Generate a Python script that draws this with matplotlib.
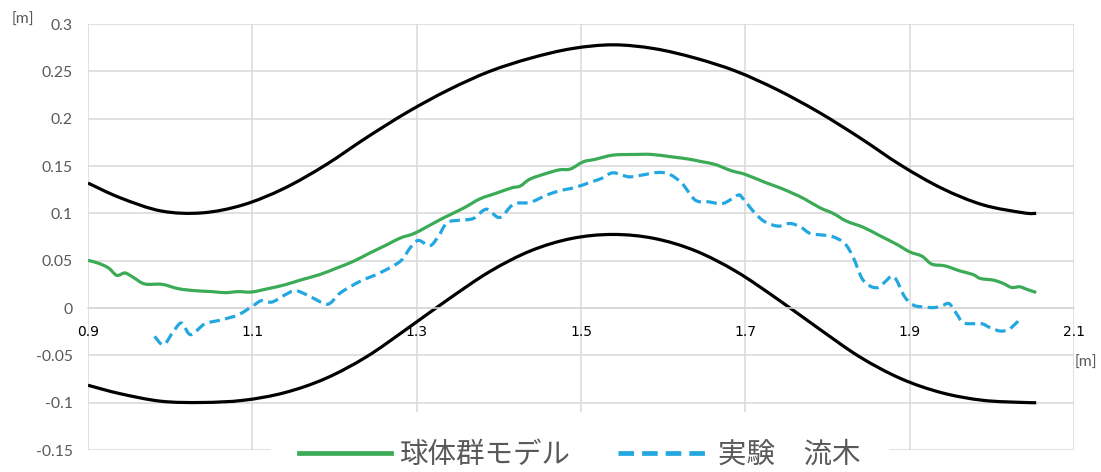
import numpy as np
import matplotlib
matplotlib.use("Agg")
import matplotlib.pyplot as plt
from matplotlib.font_manager import FontProperties
from matplotlib.path import Path
from matplotlib.patches import PathPatch
from matplotlib.lines import Line2D

# Channel walls (sine-generated meander), x and y in metres
wall_x = [0.900, 0.939, 0.989, 1.039, 1.089, 1.139, 1.189, 1.239, 1.289, 1.339,
          1.389, 1.439, 1.489, 1.539, 1.589, 1.639, 1.689, 1.739, 1.789, 1.839,
          1.889, 1.939, 1.989, 2.039, 2.054]
upper_y = [0.1320, 0.1165, 0.1025, 0.1005, 0.1090, 0.1265, 0.1510, 0.1800, 0.2070, 0.2305,
           0.2500, 0.2640, 0.2740, 0.2780, 0.2740, 0.2640, 0.2500, 0.2305, 0.2070, 0.1800,
           0.1510, 0.1265, 0.1090, 0.1005, 0.1000]
lower_y = [-0.0816, -0.0905, -0.0985, -0.0998, -0.0975, -0.0895, -0.0745, -0.0515, -0.0215, 0.0095,
           0.0385, 0.0605, 0.0735, 0.0777, 0.0735, 0.0605, 0.0385, 0.0095, -0.0215, -0.0515,
           -0.0745, -0.0895, -0.0975, -0.0998, -0.1000]

# Sphere-cluster model trajectory
model_x = [0.900, 0.912, 0.925, 0.935, 0.945, 0.955, 0.969, 0.990, 1.010, 1.030,
           1.051, 1.067, 1.083, 1.099, 1.119, 1.140, 1.160, 1.182, 1.203, 1.223,
           1.243, 1.264, 1.280, 1.296, 1.312, 1.332, 1.357, 1.377, 1.397, 1.416,
           1.426, 1.438, 1.458, 1.474, 1.487, 1.503, 1.517, 1.539, 1.566, 1.586,
           1.610, 1.631, 1.647, 1.663, 1.683, 1.700, 1.724, 1.744, 1.758, 1.771,
           1.791, 1.807, 1.823, 1.844, 1.864, 1.884, 1.900, 1.915, 1.927, 1.943,
           1.961, 1.977, 1.986, 2.002, 2.014, 2.024, 2.034, 2.042, 2.054]
model_y = [0.0503, 0.0475, 0.0423, 0.0345, 0.0370, 0.0324, 0.0254, 0.0250, 0.0204, 0.0183,
           0.0173, 0.0162, 0.0173, 0.0169, 0.0204, 0.0246, 0.0299, 0.0353, 0.0423, 0.0493,
           0.0581, 0.0669, 0.0739, 0.0784, 0.0855, 0.0949, 0.1055, 0.1153, 0.1213, 0.1270,
           0.1288, 0.1362, 0.1422, 0.1460, 0.1468, 0.1545, 0.1570, 0.1615, 0.1622, 0.1622,
           0.1597, 0.1573, 0.1545, 0.1517, 0.1450, 0.1411, 0.1327, 0.1263, 0.1210, 0.1157,
           0.1058, 0.0999, 0.0918, 0.0851, 0.0762, 0.0674, 0.0593, 0.0547, 0.0463, 0.0445,
           0.0392, 0.0354, 0.0312, 0.0294, 0.0259, 0.0217, 0.0224, 0.0199, 0.0164]

# Experiment: driftwood trajectory
exp_x = [0.981, 0.992, 1.004, 1.014, 1.025, 1.042, 1.063, 1.083, 1.101, 1.111,
         1.124, 1.140, 1.152, 1.166, 1.188, 1.196, 1.207, 1.231, 1.255, 1.280,
         1.292, 1.302, 1.316, 1.326, 1.337, 1.353, 1.369, 1.385, 1.401, 1.418,
         1.438, 1.458, 1.474, 1.493, 1.513, 1.525, 1.539, 1.558, 1.574, 1.594,
         1.608, 1.623, 1.639, 1.655, 1.673, 1.691, 1.697, 1.712, 1.724, 1.740,
         1.754, 1.767, 1.779, 1.795, 1.807, 1.821, 1.831, 1.842, 1.852, 1.862,
         1.870, 1.878, 1.884, 1.894, 1.905, 1.917, 1.929, 1.939, 1.948, 1.957,
         1.965, 1.977, 1.988, 1.998, 2.010, 2.020, 2.028, 2.035]
exp_y = [-0.0300, -0.0388, -0.0247, -0.0159, -0.0282, -0.0169, -0.0124, -0.0071, 0.0024, 0.0077,
         0.0063, 0.0140, 0.0183, 0.0140, 0.0045, 0.0060, 0.0159, 0.0281, 0.0370, 0.0493,
         0.0634, 0.0714, 0.0658, 0.0751, 0.0900, 0.0928, 0.0946, 0.1044, 0.0956, 0.1097,
         0.1115, 0.1192, 0.1238, 0.1274, 0.1333, 0.1369, 0.1428, 0.1386, 0.1404, 0.1432,
         0.1411, 0.1316, 0.1140, 0.1122, 0.1105, 0.1192, 0.1157, 0.0999, 0.0910, 0.0865,
         0.0893, 0.0857, 0.0787, 0.0770, 0.0752, 0.0681, 0.0540, 0.0312, 0.0231, 0.0217,
         0.0276, 0.0336, 0.0294, 0.0117, 0.0029, 0.0011, 0.0004, 0.0021, 0.0046, -0.0060,
         -0.0155, -0.0166, -0.0166, -0.0208, -0.0243, -0.0230, -0.0173, -0.0113]

x_ticks = [0.9, 1.1, 1.3, 1.5, 1.7, 1.9, 2.1]
x_tick_labels = ["0.9", "1.1", "1.3", "1.5", "1.7", "1.9", "2.1"]
y_ticks = [-0.15, -0.1, -0.05, 0.0, 0.05, 0.1, 0.15, 0.2, 0.25, 0.3]
y_tick_labels = ["-0.15", "-0.1", "-0.05", "0", "0.05", "0.1", "0.15", "0.2", "0.25", "0.3"]

series_labels = ["球体群モデル", "実験\u3000流木"]

TEXT_GREY = "#595959"
GRID_GREY = "#d9d9d9"
GREEN = "#3bab57"
BLUE = "#23a7e0"
EXP_DASH = (0, (3.3, 1.7))


def smooth_path(xs, ys):
    """Smoothed-line path through the points (Catmull-Rom segments as cubic Beziers)."""
    p = np.column_stack([xs, ys]).astype(float)
    ext = np.vstack([p[0], p, p[-1]])
    verts = [p[0]]
    codes = [Path.MOVETO]
    for i in range(len(p) - 1):
        p0, p1, p2, p3 = ext[i], ext[i + 1], ext[i + 2], ext[i + 3]
        c1 = p1 + (p2 - p0) / 6.0
        c2 = p2 - (p3 - p1) / 6.0
        verts += [c1, c2, p2]
        codes += [Path.CURVE4] * 3
    return Path(verts, codes)


def draw_series(ax, xs, ys, **kw):
    patch = PathPatch(smooth_path(xs, ys), fill=False, transform=ax.transData,
                      capstyle="butt", joinstyle="round", **kw)
    ax.add_patch(patch)
    return patch


W, H = 1101, 472
fig = plt.figure(figsize=(W / 100, H / 100), dpi=100)
ax = fig.add_axes([88 / W, 1 - 450 / H, (1074 - 88) / W, (450 - 24) / H])

draw_series(ax, wall_x, upper_y, edgecolor="black", lw=2.3, zorder=2)
draw_series(ax, wall_x, lower_y, edgecolor="black", lw=2.3, zorder=2)
draw_series(ax, model_x, model_y, edgecolor=GREEN, lw=2.3, zorder=3)
draw_series(ax, exp_x, exp_y, edgecolor=BLUE, lw=2.3, ls=EXP_DASH, zorder=3)

ax.set_xlim(0.9, 2.1)
ax.set_ylim(-0.15, 0.3)

tick_font = FontProperties(family=["Lato", "Noto Sans CJK JP"], size=11.3)
ax.set_xticks(x_ticks)
ax.set_xticklabels(x_tick_labels, fontproperties=tick_font, color=TEXT_GREY)
ax.set_yticks(y_ticks)
ax.set_yticklabels(y_tick_labels, fontproperties=tick_font, color=TEXT_GREY)
ax.tick_params(axis="both", length=0)
ax.tick_params(axis="y", pad=11)
ax.tick_params(axis="x", pad=12.5)

ax.set_axisbelow(True)
ax.grid(True, color=GRID_GREY, lw=1.1)
for side in ("top", "right", "left"):
    ax.spines[side].set_visible(False)
ax.spines["bottom"].set_position(("data", 0))
ax.spines["bottom"].set_color(GRID_GREY)
ax.spines["bottom"].set_linewidth(1.1)

# Axis unit labels
fig.text(23 / W, 1 - 20 / H, "[m]", ha="center", va="center",
         fontproperties=tick_font, color=TEXT_GREY)
fig.text(1086 / W, 1 - 363 / H, "[m]", ha="center", va="center",
         fontproperties=tick_font, color=TEXT_GREY)

handles = [Line2D([], [], color=GREEN, lw=3.4),
           Line2D([], [], color=BLUE, lw=3.4, ls=EXP_DASH)]
leg_font = FontProperties(family=["Noto Sans CJK JP", "DejaVu Sans"], size=20.5)
leg = ax.legend(handles, series_labels, loc="center",
                bbox_to_anchor=(580 / W, 1 - 455 / H), bbox_transform=fig.transFigure,
                ncol=2, frameon=True, facecolor="white", edgecolor="none",
                framealpha=1.0, fancybox=False, prop=leg_font,
                handlelength=3.2, handletextpad=0.3, columnspacing=1.7,
                borderpad=1.0, labelcolor=TEXT_GREY)
leg.set_zorder(10)

fig.savefig("out.png", dpi=100)
